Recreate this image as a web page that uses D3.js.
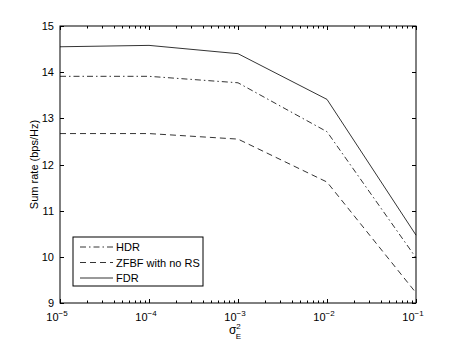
<!DOCTYPE html>
<html>
<head>
<meta charset="utf-8">
<script src="https://cdn.jsdelivr.net/npm/d3@7"></script>
<style>
  body { margin: 0; background: #fff; }
  text { font-family: "Liberation Sans", Arial, sans-serif; fill: #000; }
</style>
</head>
<body>
<div class="viz"></div>
<script>
var xValues = [ 1e-5, 1e-4, 1e-3, 1e-2, 1e-1 ],
    fdr = [ 14.55, 14.58, 14.40, 13.41, 10.47 ],
    hdr = [ 13.91, 13.91, 13.77, 12.71, 9.98 ],
    zfbf = [ 12.67, 12.67, 12.55, 11.62, 9.22 ],
    yTicks = [ 9, 10, 11, 12, 13, 14, 15 ],
    xExponents = [ "-5", "-4", "-3", "-2", "-1" ];

var series = [
    { name: "HDR", values: hdr, dash: "6,3,1.5,3" },
    { name: "ZFBF with no RS", values: zfbf, dash: "6,4" },
    { name: "FDR", values: fdr, dash: null }
];

var margin = { top: 26, right: 44, bottom: 43, left: 60 },
    width = 460 - margin.left - margin.right,
    height = 346 - margin.top - margin.bottom,
    tickLen = 4;

var svg = d3.select( ".viz" )
    .append( "svg" )
    .attr( "width", 460 )
    .attr( "height", 346 );

var g = svg.append( "g" )
    .attr( "transform", "translate(" + margin.left + "," + margin.top + ")" );

var x = d3.scaleLog().domain( [ 1e-5, 1e-1 ] ).range( [ 0, width ] );
var y = d3.scaleLinear().domain( [ 9, 15 ] ).range( [ height, 0 ] );

// minor + major ticks on log axis
var minorTicks = [];
for ( var e = -5; e < -1; e++ ) {
    for ( var m = 2; m <= 9; m++ ) minorTicks.push( m * Math.pow( 10, e ) );
}

// frame
g.append( "rect" )
    .attr( "width", width )
    .attr( "height", height )
    .attr( "fill", "none" )
    .attr( "stroke", "#000" )
    .attr( "stroke-width", 1 );

var ticks = g.append( "g" ).attr( "stroke", "#000" ).attr( "stroke-width", 1 );

minorTicks.forEach( function( d ) {
    var px = Math.round( x( d ) ) + 0.5;
    ticks.append( "line" ).attr( "x1", px ).attr( "x2", px ).attr( "y1", height ).attr( "y2", height - 2.5 );
    ticks.append( "line" ).attr( "x1", px ).attr( "x2", px ).attr( "y1", 0 ).attr( "y2", 2.5 );
} );

xValues.forEach( function( d ) {
    var px = Math.round( x( d ) ) + 0.5;
    ticks.append( "line" ).attr( "x1", px ).attr( "x2", px ).attr( "y1", height ).attr( "y2", height - tickLen );
    ticks.append( "line" ).attr( "x1", px ).attr( "x2", px ).attr( "y1", 0 ).attr( "y2", tickLen );
} );

yTicks.forEach( function( d ) {
    var py = Math.round( y( d ) ) + 0.5;
    ticks.append( "line" ).attr( "x1", 0 ).attr( "x2", tickLen ).attr( "y1", py ).attr( "y2", py );
    ticks.append( "line" ).attr( "x1", width ).attr( "x2", width - tickLen ).attr( "y1", py ).attr( "y2", py );
} );

// y tick labels
g.selectAll( ".ylab" )
    .data( yTicks )
    .enter()
    .append( "text" )
    .attr( "class", "ylab" )
    .attr( "x", -6 )
    .attr( "y", function( d ) { return y( d ) + 4; } )
    .attr( "text-anchor", "end" )
    .style( "font-size", "11px" )
    .text( function( d ) { return d; } );

// x tick labels: 10^e
var xl = g.selectAll( ".xlab" )
    .data( xValues )
    .enter()
    .append( "text" )
    .attr( "class", "xlab" )
    .attr( "x", function( d ) { return x( d ) - 3; } )
    .attr( "y", height + 18 )
    .attr( "text-anchor", "middle" )
    .style( "font-size", "11px" );
xl.append( "tspan" ).text( "10" );
xl.append( "tspan" )
    .attr( "dy", -5 )
    .style( "font-size", "8px" )
    .text( function( d, i ) { return "\u2212" + xExponents[ i ].slice( 1 ); } );

// axis labels
var xt = g.append( "text" )
    .attr( "x", width / 2 - 3 )
    .attr( "y", height + 31 )
    .attr( "text-anchor", "middle" )
    .style( "font-size", "12px" );
xt.append( "tspan" ).text( "\u03c3" );
xt.append( "tspan" ).attr( "dy", -5 ).style( "font-size", "8px" ).text( "2" );
xt.append( "tspan" ).attr( "dx", -5 ).attr( "dy", 10 ).style( "font-size", "8px" ).text( "E" );

g.append( "text" )
    .attr( "transform", "translate(-22," + height / 2 + ") rotate(-90)" )
    .attr( "text-anchor", "middle" )
    .style( "font-size", "11px" )
    .text( "Sum rate (bps/Hz)" );

// lines
var line = d3.line()
    .x( function( d, i ) { return x( xValues[ i ] ); } )
    .y( function( d ) { return y( d ); } );

g.selectAll( ".series" )
    .data( series )
    .enter()
    .append( "path" )
    .attr( "class", "series" )
    .attr( "d", function( d ) { return line( d.values ); } )
    .attr( "fill", "none" )
    .attr( "stroke", "#000" )
    .attr( "stroke-width", 0.8 )
    .attr( "stroke-dasharray", function( d ) { return d.dash; } );

// legend
var legend = g.append( "g" ).attr( "transform", "translate(13,211)" );
legend.append( "rect" )
    .attr( "width", 130 )
    .attr( "height", 49 )
    .attr( "fill", "#fff" )
    .attr( "stroke", "#000" )
    .attr( "stroke-width", 1 );

var items = legend.selectAll( ".item" )
    .data( series )
    .enter()
    .append( "g" )
    .attr( "class", "item" )
    .attr( "transform", function( d, i ) { return "translate(0," + ( 10 + i * 15.5 ) + ")"; } );

items.append( "line" )
    .attr( "x1", 7 )
    .attr( "x2", 40 )
    .attr( "stroke", "#000" )
    .attr( "stroke-width", 0.8 )
    .attr( "stroke-dasharray", function( d ) { return d.dash; } );

items.append( "text" )
    .attr( "x", 43 )
    .attr( "y", 4 )
    .style( "font-size", "11px" )
    .text( function( d ) { return d.name; } );
</script>
</body>
</html>
